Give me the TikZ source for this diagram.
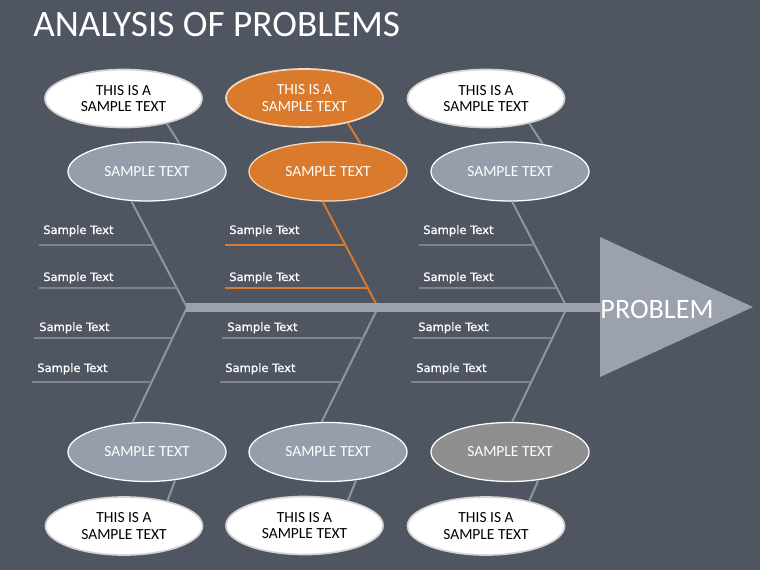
\documentclass[tikz,border=0pt]{standalone}
\usepackage{fontspec}
\setmainfont{Carlito}
\newfontfamily\labelfont[FakeBold=0.8]{DejaVu Sans}
\usetikzlibrary{shapes.geometric}

\definecolor{slate}{HTML}{4F5561}
\definecolor{bonegray}{HTML}{8F96A3}
\definecolor{rulegray}{HTML}{7E8591}
\definecolor{spinegray}{HTML}{9BA2AE}
\definecolor{causegray}{HTML}{979EAB}
\definecolor{causedark}{HTML}{8E8E8E}
\definecolor{fishorange}{HTML}{D97A2C}
\definecolor{orangeedge}{HTML}{F5D9BC}

\tikzset{
  cause/.style={ellipse, draw=white, line width=0.9pt, text=white,
    minimum width=3.95cm, minimum height=1.475cm, inner sep=0pt,
    font=\fontsize{11}{13}\selectfont},
  note/.style={ellipse, fill=white, draw=gray!35, line width=1.2pt,
    minimum width=3.925cm, minimum height=1.45cm, inner sep=0pt,
    align=center, font=\fontsize{11}{12}\selectfont},
  bone/.style={draw=bonegray, line width=1.4pt},
  item/.style={anchor=base west, inner sep=0pt, text=white,
    font=\labelfont\fontsize{8.2}{10}\selectfont}
}

\begin{document}
\begin{tikzpicture}[x=0.025cm, y=-0.025cm]

  % background
  \fill[slate] (0,0) rectangle (760,570);
  \useasboundingbox (0,0) rectangle (760,570);

  % title
  \node[anchor=base west, inner sep=0pt, text=white,
    font=\fontsize{26.5}{30}\selectfont] (title) at (33,37) {ANALYSIS OF PROBLEMS};

  % causes
  \node[cause, fill=causegray] (c1) at (147,171.5) {SAMPLE TEXT};
  \node[cause, fill=fishorange, draw=orangeedge] (c2) at (328,171.5) {SAMPLE TEXT};
  \node[cause, fill=causegray] (c3) at (510,171.5) {SAMPLE TEXT};
  \node[cause, fill=causegray] (c4) at (147,452) {SAMPLE TEXT};
  \node[cause, fill=causegray] (c5) at (328,452) {SAMPLE TEXT};
  \node[cause, fill=causedark] (c6) at (510,452) {SAMPLE TEXT};

  % notes
  \node[note] (n1) at (123.5,98.5) {THIS IS A\\SAMPLE TEXT};
  \node[note, fill=fishorange, draw=orangeedge, text=white] (n2) at (304.5,98) {THIS IS A\\SAMPLE TEXT};
  \node[note] (n3) at (486,98.5) {THIS IS A\\SAMPLE TEXT};
  \node[note] (n4) at (124,526) {THIS IS A\\SAMPLE TEXT};
  \node[note] (n5) at (304.5,525.5) {THIS IS A\\SAMPLE TEXT};
  \node[note] (n6) at (486,526) {THIS IS A\\SAMPLE TEXT};

  % junctions on the spine
  \coordinate (j1) at (187,307.5);
  \coordinate (j2) at (378,307.5);
  \coordinate (j3) at (567,307.5);

  % bones
  \draw[bone] (j1) -- (c1.242);
  \draw[bone, draw=fishorange] (j2) -- (c2.260);
  \draw[bone] (j3) -- (c3.274);
  \draw[bone] (j1) -- (c4.116);
  \draw[bone] (j2) -- (c5.102);
  \draw[bone] (j3) -- (c6.86);
  \draw[bone] (n1.330) -- (c1.40);
  \draw[bone, draw=fishorange] (n2.330) -- (c2.40);
  \draw[bone] (n3.330) -- (c3.40);
  \foreach \i in {4,5,6}{
    \draw[bone] (c\i.315) -- (n\i.30);
  }

  % spine and head
  \fill[spinegray] (186,303) rectangle (602,312);
  \fill[spinegray] (600,237) -- (753,307) -- (600,377) -- cycle;
  \node[anchor=base, inner sep=0pt, text=white,
    font=\fontsize{20}{24}\selectfont] (problem) at (657,318) {PROBLEM};

  % sample lines
  \foreach \j/\s/\t/\col in {187/39/34/rulegray, 378/225/222/fishorange, 567/419/413/rulegray}{
    \draw[\col, line width=1.3pt] (\s,245) -- ({\j-32.2},245);
    \draw[\col, line width=1.3pt] (\s,288) -- ({\j-9.9},288);
    \draw[rulegray, line width=1.3pt] (\t,338) -- ({\j-15.2},338);
    \draw[rulegray, line width=1.3pt] ({\t-2},382) -- ({\j-37.5},382);
    \node[item] (a\j) at ({\s+4},234) {Sample Text};
    \node[item] (b\j) at ({\s+4},281) {Sample Text};
    \node[item] (c\j) at ({\t+5},331) {Sample Text};
    \node[item] (d\j) at ({\t+3},372) {Sample Text};
  }
\end{tikzpicture}
\end{document}
